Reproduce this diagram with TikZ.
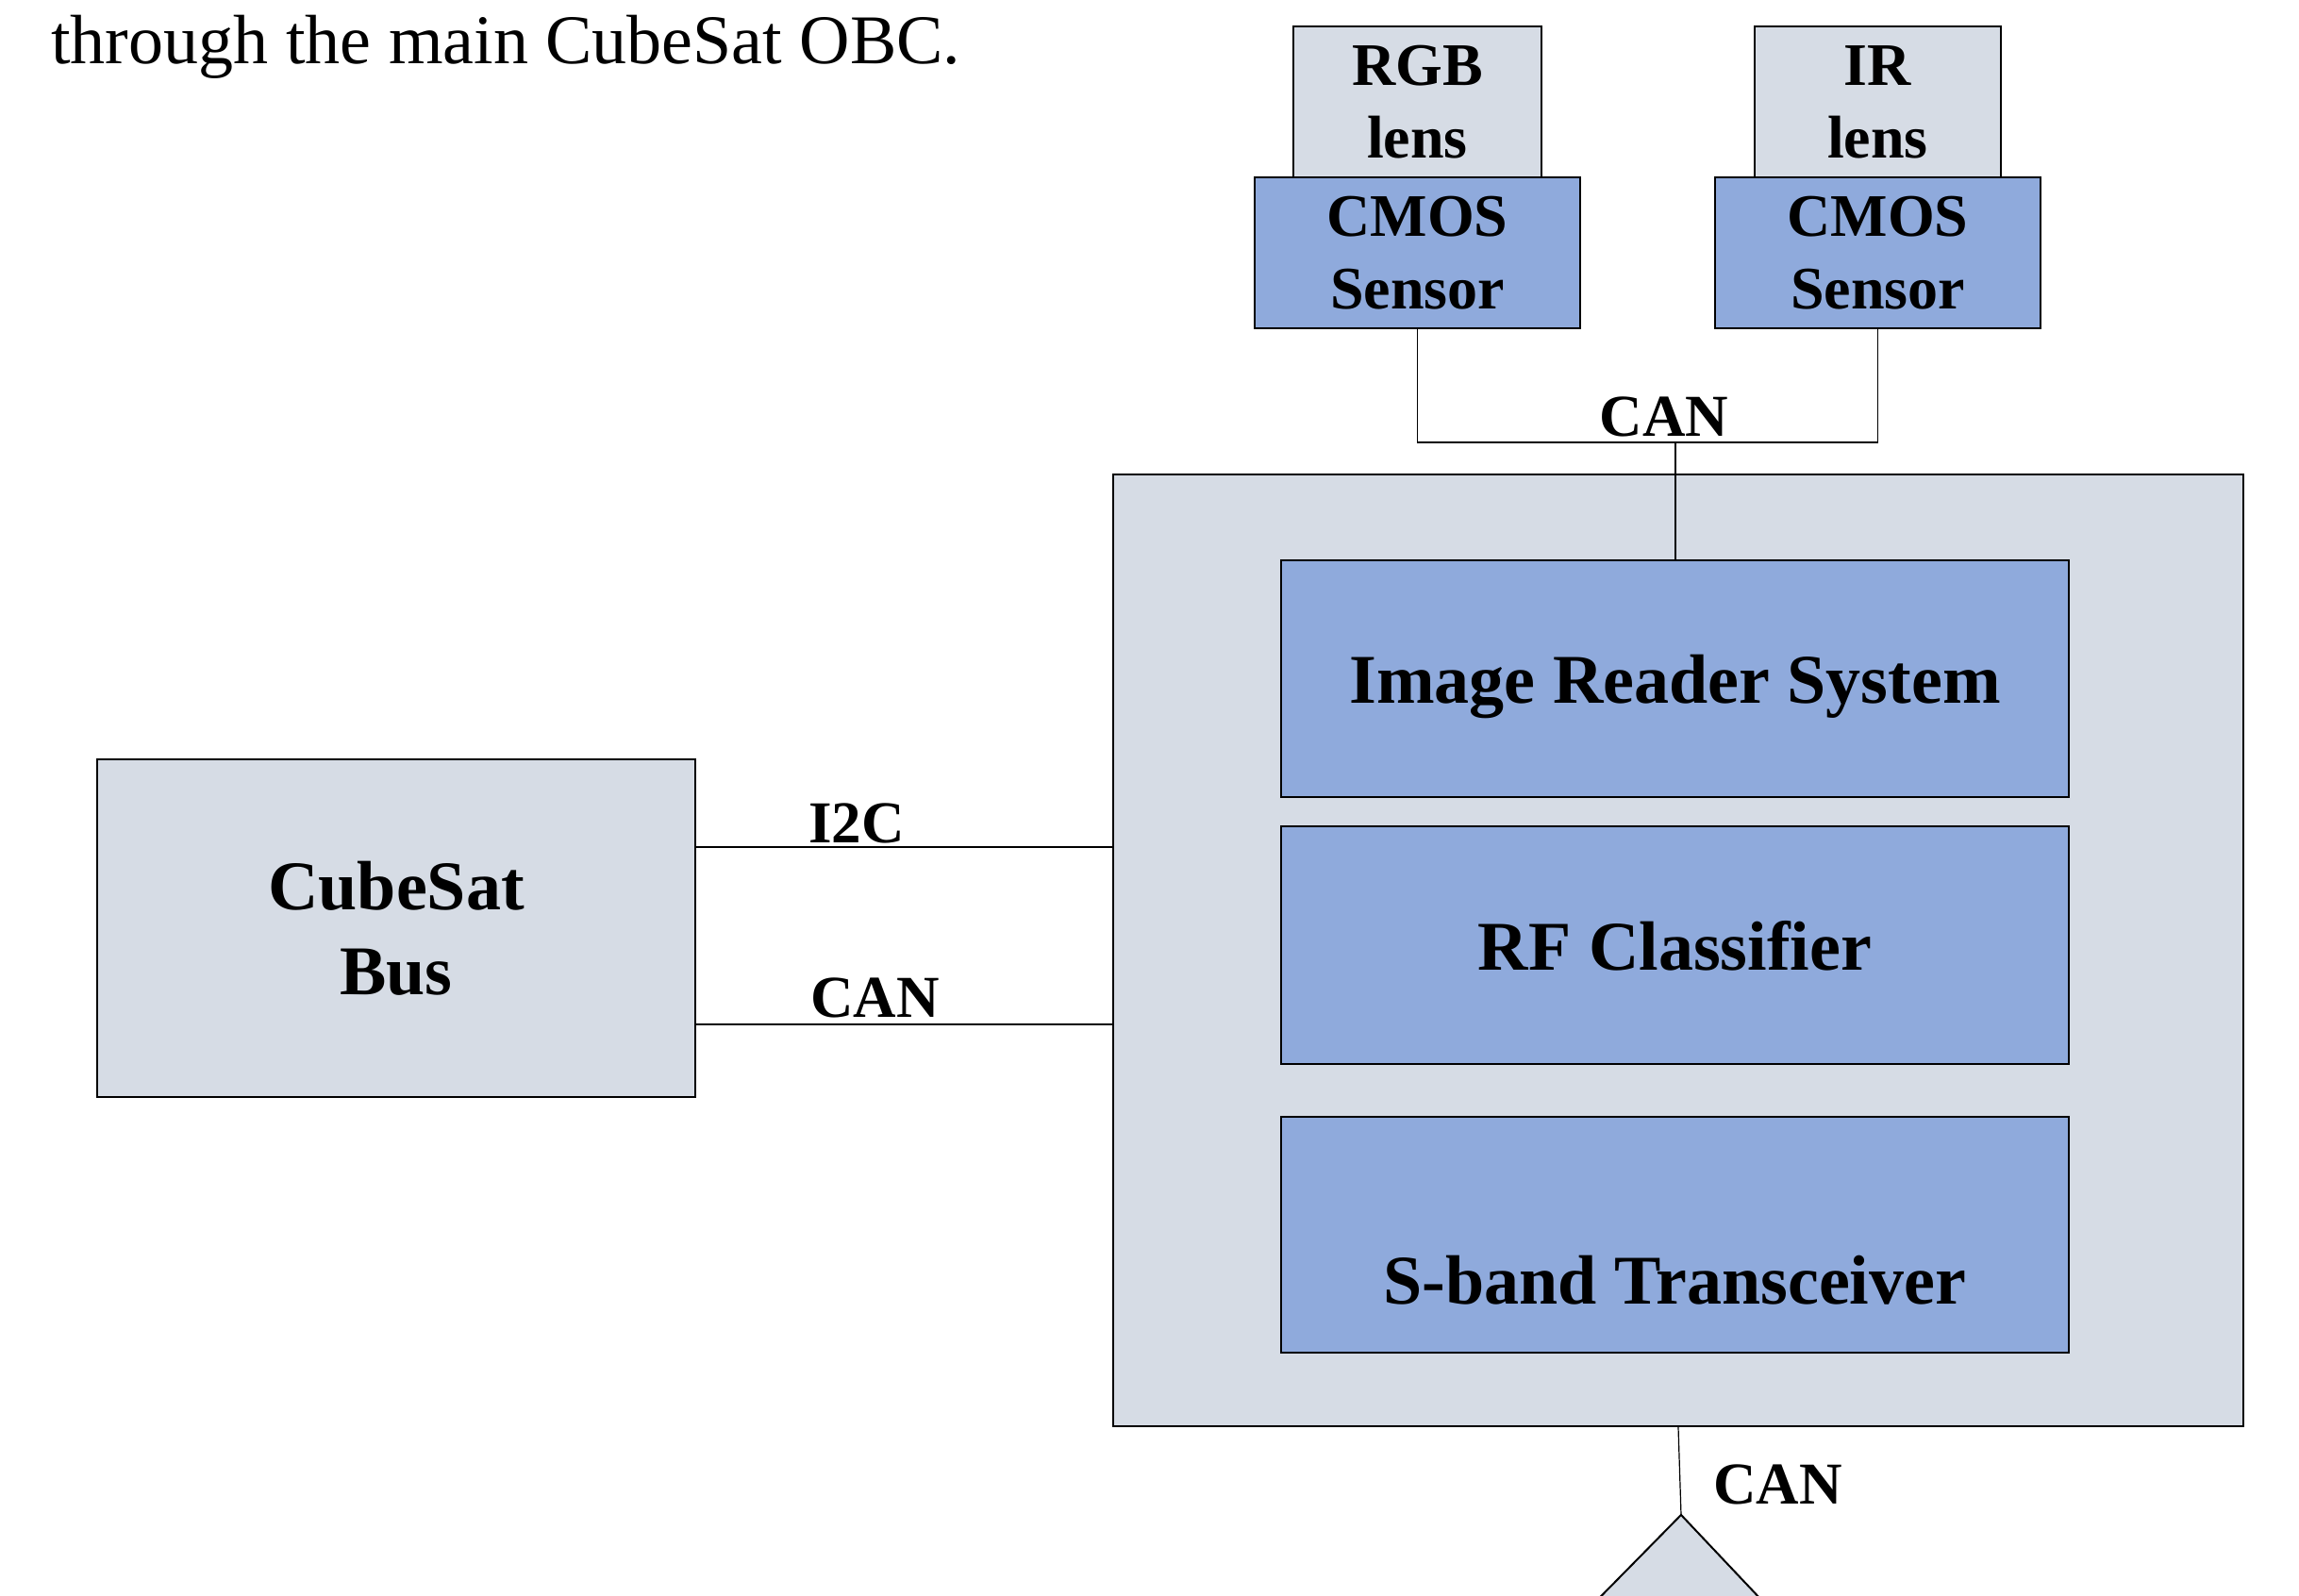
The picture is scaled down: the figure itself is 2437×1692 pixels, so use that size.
\documentclass[tikz,border=0pt]{standalone}
\usepackage{fontspec}
\setmainfont{Liberation Serif}
\usetikzlibrary{calc}

\definecolor{panelgray}{HTML}{D6DCE5}
\definecolor{unitblue}{HTML}{8FAADC}

\tikzset{
  box/.style={draw=black, line width=1pt, inner sep=0pt, align=center,
    font=\bfseries\fontsize{37}{45}\selectfont},
  graybox/.style={box, fill=panelgray},
  bluebox/.style={box, fill=unitblue},
  smallbox/.style={font=\bfseries\fontsize{32}{38.5}\selectfont, text depth=-3pt},
  wire/.style={draw=black, line width=0.6pt},
  buslabel/.style={inner sep=0pt, font=\bfseries\fontsize{31.5}{36}\selectfont},
}

\begin{document}
\begin{tikzpicture}[x=0.5pt, y=-0.5pt]
\useasboundingbox (0,0) rectangle (2437,1692);

% running text above the figure
\node[anchor=base west, inner sep=0pt, font=\fontsize{37}{44}\selectfont]
  (caption) at (54,67) {through the main CubeSat OBC.};

% camera heads: lens on top of a CMOS sensor
\node[graybox, smallbox, minimum width=131.5pt, minimum height=80pt] (rgbLens) at (1502.5,108) {RGB\\lens};
\node[bluebox, smallbox, minimum width=172.5pt, minimum height=80pt] (rgbCmos) at (1502.5,268) {CMOS\\Sensor};
\node[graybox, smallbox, minimum width=130.5pt, minimum height=80pt] (irLens) at (1990.5,108) {IR\\lens};
\node[bluebox, smallbox, minimum width=172.5pt, minimum height=80pt] (irCmos) at (1990.5,268) {CMOS\\Sensor};

% payload board
\node[graybox, minimum width=599pt, minimum height=504.5pt] (board) at (1779,1007.5) {};
\node[bluebox, text depth=-1pt, minimum width=417.5pt, minimum height=125.5pt] (irs) at (1775.5,719.5) {Image Reader System};
\node[bluebox, text depth=-2pt, minimum width=417.5pt, minimum height=126pt] (rf) at (1775.5,1002) {RF Classifier};
\node[bluebox, minimum width=417.5pt, minimum height=125pt] (sband) at (1775.5,1309) {};
\node[anchor=base, inner sep=0pt, font=\bfseries\fontsize{37}{45}\selectfont]
  (sbandText) at (1775.5,1382) {S-band Transceiver};

% satellite bus
\node[graybox, text depth=-5pt, minimum width=317pt, minimum height=179pt] (bus) at (420,984) {CubeSat\\Bus};

% camera CAN link
\coordinate (camBus) at (1776,469);
\draw[wire] (rgbCmos.south) |- (camBus) -| (irCmos.south);
\draw[wire] (camBus) -- (camBus |- irs.north);
\node[buslabel, anchor=base] (camCan) at (1764,462) {CAN};

% bus links
\draw[wire] (bus.east) ++(0,-86) coordinate (i2cA) -- (i2cA -| board.west);
\node[buslabel, anchor=base west] (i2cLabel) at (857,893) {I2C};
\draw[wire] (bus.east) ++(0,102) coordinate (canA) -- (canA -| board.west);
\node[buslabel, anchor=base west] (canLabel) at (859,1078) {CAN};

% link down to the antenna
\coordinate (apex) at (1782,1606);
\draw[wire] (board.south) -- (apex);
\node[buslabel, anchor=base west] (antCan) at (1816,1594) {CAN};
\begin{scope}
  \clip (0,0) rectangle (2437,1692);
  \draw[fill=panelgray, line width=1pt, line join=miter] (apex) -- ++(-125,127) -- ++(245,0) -- cycle;
\end{scope}
\end{tikzpicture}
\end{document}
